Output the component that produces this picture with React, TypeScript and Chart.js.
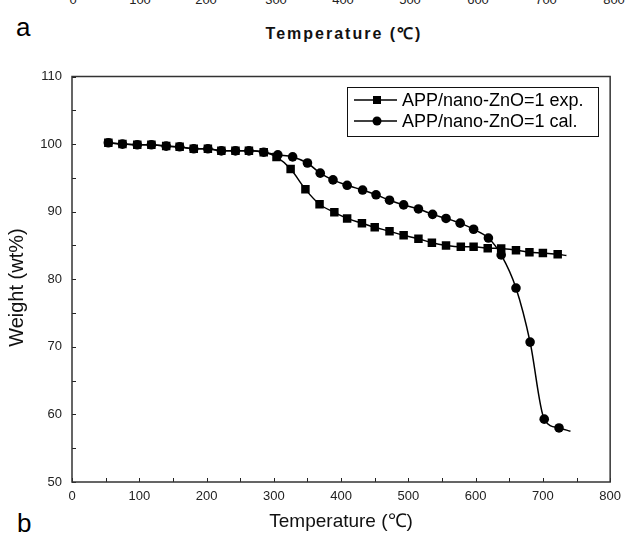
import { useEffect, useRef } from "react";
import { Chart, registerables } from "chart.js";
Chart.register(...registerables);

// shared low-temperature part (both curves overlap)
const sharedTemps = [54, 75, 97, 118, 140, 160, 181, 202, 222, 243, 263, 285];
const sharedWeights = [100.2, 100.0, 99.9, 99.9, 99.7, 99.6, 99.3, 99.3, 99.0, 99.0, 99.0, 98.8];

// experimental curve after split (last point = line end, no marker)
const expTemps = [304, 325, 347, 368, 390, 409, 431, 450, 472, 493, 515, 535, 556, 578, 597, 618, 638, 660, 680, 700, 722, 735];
const expWeights = [98.1, 96.3, 93.3, 91.1, 89.9, 89.0, 88.3, 87.7, 87.1, 86.5, 86.0, 85.4, 85.0, 84.8, 84.8, 84.6, 84.55, 84.3, 84.0, 83.9, 83.7, 83.5];

// calculated curve after split (last point = line end, no marker)
const calTemps = [306, 328, 350, 369, 388, 409, 432, 452, 472, 493, 515, 536, 556, 577, 597, 619, 638, 660, 681, 702, 724, 741];
const calWeights = [98.4, 98.1, 97.2, 95.7, 94.7, 93.9, 93.2, 92.5, 91.7, 91.0, 90.4, 89.6, 89.0, 88.3, 87.4, 86.1, 83.6, 78.7, 70.7, 59.3, 58.0, 57.5];

const seriesLabels = ["APP/nano-ZnO=1 exp.", "APP/nano-ZnO=1 cal."];
const xTickValues = [0, 100, 200, 300, 400, 500, 600, 700, 800];
const panelATickLabels = ["0", "100", "200", "300", "400", "500", "600", "700", "800"];

const toPoints = (xs: number[], ys: number[]) => xs.map((x, i) => ({ x, y: ys[i] }));

const innerDecor = {
  id: "innerDecor",
  afterDraw(chart: any) {
    const { ctx, chartArea: a, scales } = chart;
    const x = scales.x;
    const y = scales.y;
    ctx.save();
    ctx.strokeStyle = "#222";
    ctx.lineWidth = 1;
    for (let v = 0; v <= 800; v += 50) {
      const px = Math.round(x.getPixelForValue(v)) + 0.5;
      ctx.beginPath();
      ctx.moveTo(px, a.bottom);
      ctx.lineTo(px, a.bottom - 4);
      ctx.stroke();
    }
    for (let v = 50; v <= 110; v += 5) {
      const py = Math.round(y.getPixelForValue(v)) + 0.5;
      ctx.beginPath();
      ctx.moveTo(a.left, py);
      ctx.lineTo(a.left + 4, py);
      ctx.stroke();
    }
    ctx.lineWidth = 1.5;
    ctx.strokeStyle = "#333";
    ctx.strokeRect(a.left, a.top, a.right - a.left, a.bottom - a.top);

    // legend
    const bx = 347.5, by = 87.5, bw = 251, bh = 49;
    ctx.lineWidth = 1;
    ctx.strokeStyle = "#111";
    ctx.strokeRect(bx, by, bw, bh);
    const rows = [100, 121];
    chart.data.datasets.forEach((ds: any, i: number) => {
      const ry = rows[i];
      ctx.strokeStyle = "#000";
      ctx.lineWidth = 1.5;
      ctx.beginPath();
      ctx.moveTo(354, ry);
      ctx.lineTo(397, ry);
      ctx.stroke();
      ctx.fillStyle = "#000";
      if (ds.pointStyle === "rect") {
        ctx.fillRect(377 - 4, ry - 4, 8, 8);
      } else {
        ctx.beginPath();
        ctx.arc(377, ry, 4.5, 0, Math.PI * 2);
        ctx.fill();
      }
      ctx.font = '18px "Liberation Sans", Arial, sans-serif';
      ctx.textBaseline = "middle";
      ctx.textAlign = "left";
      ctx.fillText(ds.label, 402, ry + 1);
    });
    ctx.restore();
  },
};

export default function App() {
  const ref = useRef<HTMLCanvasElement | null>(null);
  useEffect(() => {
    document.body.style.margin = "0";
    const canvas = ref.current;
    if (!canvas) return;
    const expData = toPoints([...sharedTemps, ...expTemps], [...sharedWeights, ...expWeights]);
    const calData = toPoints([...sharedTemps, ...calTemps], [...sharedWeights, ...calWeights]);
    const chart = new Chart(canvas, {
      type: "line",
      data: {
        datasets: [
          {
            label: seriesLabels[0],
            data: expData,
            borderColor: "#000",
            backgroundColor: "#000",
            borderWidth: 1.5,
            pointStyle: "rect",
            pointRadius: (c: any) => (c.dataIndex === expData.length - 1 ? 0 : 6),
            pointBorderWidth: 0,
            cubicInterpolationMode: "monotone",
          },
          {
            label: seriesLabels[1],
            data: calData,
            borderColor: "#000",
            backgroundColor: "#000",
            borderWidth: 1.5,
            pointStyle: "circle",
            pointRadius: (c: any) => (c.dataIndex === calData.length - 1 ? 0 : 4.8),
            pointBorderWidth: 0,
            cubicInterpolationMode: "monotone",
          },
        ],
      },
      options: {
        responsive: false,
        animation: false,
        devicePixelRatio: 1,
        layout: { padding: { left: 0, top: 76.5, right: 12, bottom: 0 } },
        plugins: { legend: { display: false }, tooltip: { enabled: false } },
        scales: {
          x: {
            type: "linear",
            min: 0,
            max: 800,
            afterFit: (s: any) => {
              s.height = 55;
            },
            afterBuildTicks: (s: any) => {
              s.ticks = xTickValues.map((v) => ({ value: v }));
            },
            grid: { display: false, drawTicks: false },
            border: { display: false },
            ticks: {
              padding: 7,
              color: "#222",
              font: { family: '"Liberation Sans", Arial, sans-serif', size: 13 },
              maxRotation: 0,
            },
            title: {
              display: true,
              text: "Temperature (\u2103)",
              color: "#111",
              font: { family: '"Liberation Sans", Arial, sans-serif', size: 19 },
              padding: { top: 0, bottom: 4 },
            },
          },
          y: {
            type: "linear",
            min: 50,
            max: 110,
            afterFit: (s: any) => {
              s.width = 72;
            },
            grid: { display: false, drawTicks: false },
            border: { display: false },
            ticks: {
              stepSize: 10,
              padding: 10,
              color: "#222",
              font: { family: '"Liberation Sans", Arial, sans-serif', size: 13 },
            },
            title: {
              display: true,
              text: "Weight (wt%)   ",
              color: "#111",
              font: { family: '"Liberation Sans", Arial, sans-serif', size: 20 },
              padding: { top: 5, bottom: 0 },
            },
          },
        },
      },
      plugins: [innerDecor],
    } as any);
    return () => chart.destroy();
  }, []);

  const tickX = [73, 140, 206, 276, 343, 410, 478, 546, 614];

  return (
    <div style={{ position: "fixed", left: 0, top: 0, width: 628, height: 537, overflow: "hidden", background: "#fff" }}>
      {panelATickLabels.map((t, i) => (
        <div
          key={t}
          style={{
            position: "absolute",
            left: tickX[i],
            top: -7,
            transform: "translateX(-50%)",
            font: '13px "Liberation Sans", Arial, sans-serif',
            lineHeight: "13px",
            color: "#222",
          }}
        >
          {t}
        </div>
      ))}
      <div style={{ position: "absolute", left: 16, top: 12, font: '26px "Liberation Sans", Arial, sans-serif', lineHeight: "30px", color: "#000" }}>a</div>
      <div
        style={{
          position: "absolute",
          left: 344,
          top: 24,
          transform: "translateX(-50%)",
          font: 'bold 16px "Liberation Sans Narrow", "Liberation Sans", Arial, sans-serif',
          letterSpacing: "2px",
          lineHeight: "20px",
          whiteSpace: "nowrap",
          color: "#111",
        }}
      >
        Temperature (&#8451;)
      </div>
      <div style={{ position: "absolute", left: 17, top: 508, font: '26px "Liberation Sans", Arial, sans-serif', lineHeight: "30px", color: "#000" }}>b</div>
      <canvas ref={ref} width={628} height={537} style={{ position: "absolute", left: 0, top: 0, width: 628, height: 537 }} />
    </div>
  );
}
